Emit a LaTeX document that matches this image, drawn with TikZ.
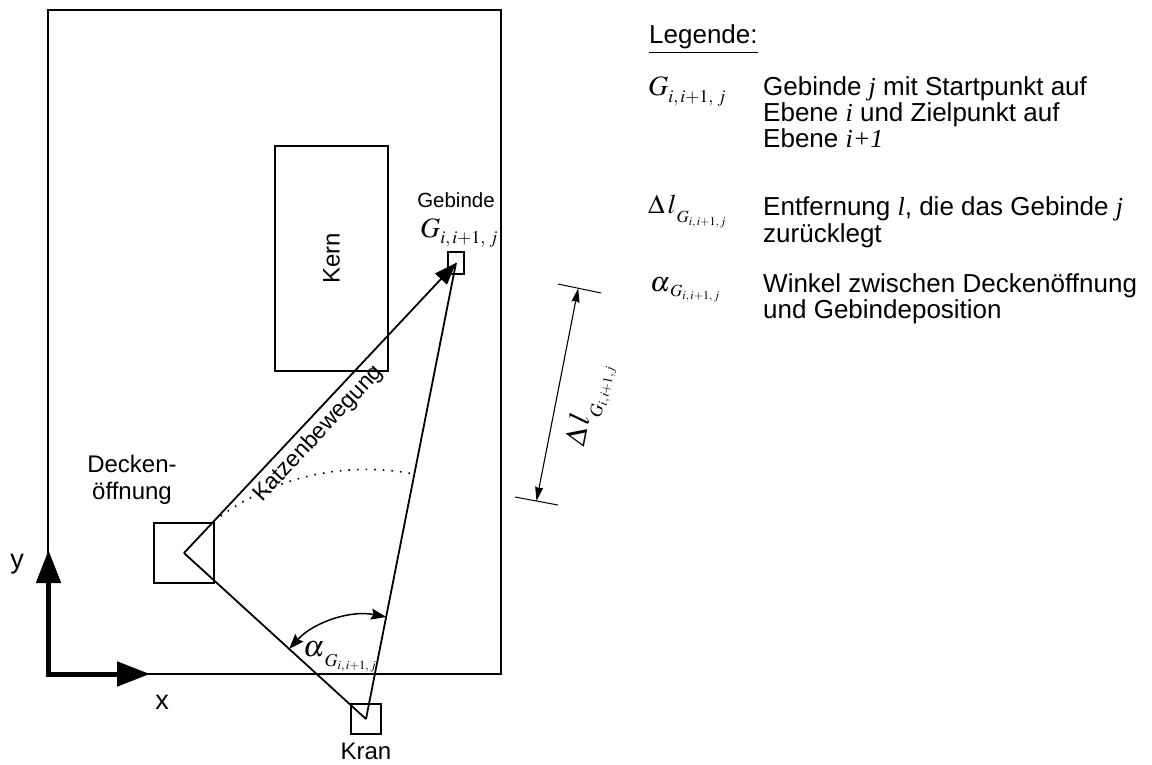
\documentclass[tikz,border=0pt]{standalone}
\usepackage{mathptmx}
\usepackage[no-math]{fontspec}
\setmainfont{Liberation Sans}
\newfontfamily\tms{Liberation Serif}
\usetikzlibrary{arrows.meta,calc}
\newcommand{\mi}[1]{{\tms\itshape #1}}
\newcommand{\msz}[2]{{\fontsize{#1}{#1}\selectfont$#2$}}
\newcommand{\symG}[3]{\msz{#1}{G}\raisebox{-#3}{\msz{#2}{i,i{+}1,\,j}}}
\newcommand{\symA}[5]{\msz{#1}{\alpha}\raisebox{-#4}{\msz{#2}{G}\raisebox{-#5}{\msz{#3}{i,i{+}1,j}}}}
\newcommand{\symL}[5]{\msz{#1}{\Delta\,l}\raisebox{-#4}{\msz{#2}{G}\raisebox{-#5}{\msz{#3}{i,i{+}1,j}}}}
\begin{document}
\begin{tikzpicture}[x=1pt,y=-1pt,line join=miter,
  ln/.style={line width=1.8pt},
  boxn/.style={draw,line width=1.8pt,inner sep=0pt,outer sep=0pt},
  lbl/.style={font=\fontsize{24}{28}\selectfont,inner sep=0pt},
  leg/.style={font=\fontsize{26}{30}\selectfont,anchor=base west,inner sep=0pt},
  mth/.style={anchor=base west,inner sep=0pt},
  bigtip/.tip={Triangle[length=22pt,width=16pt]},
  axtip/.tip={Triangle[length=33pt,width=24pt]},
  smtip/.tip={Stealth[length=15pt,width=11pt,inset=2pt]},
  dimtip/.tip={Stealth[length=14pt,width=8pt,inset=1pt]}]
\useasboundingbox (0,0) rectangle (1152,764);
% outer frame
\draw[ln] (48,10) rectangle (501,674);
% core
\node[boxn,rotate=90,minimum width=225pt,minimum height=113pt,font=\fontsize{24}{28}\selectfont] (kern) at (331.5,258.5) {Kern};
% boxes
\node[boxn,minimum size=60pt] (deck) at (184,553) {};
\node[boxn,minimum size=30pt] (kran) at (366,719) {};
\node[boxn,minimum width=16pt,minimum height=22pt] (geb) at (456,263) {};
% main connectors
\draw[ln,-bigtip] (deck.center) -- node[sloped,below=4pt,pos=0.45,font=\fontsize{23}{28}\selectfont,inner sep=1pt] (katz) {Katzenbewegung} (geb.center);
\draw[ln] (kran.center) -- (geb.center);
\draw[ln] (deck.center) -- (kran.center);
% dotted arc
\draw[line width=1.6pt,dash pattern=on 1.6pt off 7pt] ($(kran.center)+(-127.6:249.6)$) arc[start angle=-127.6,end angle=-78.84,radius=249.6];
% angle alpha
\draw[line width=1.5pt,smtip-smtip] ($(kran.center)+(-137.63:104)$) arc[start angle=-137.63,end angle=-78.84,radius=104];
\node[mth] (alph) at (303,656) {\symA{30}{18}{12.5}{10pt}{3pt}};
% dimension
\coordinate (dt1) at (558,284);
\coordinate (dt2) at (601,293);
\coordinate (db1) at (515,497);
\coordinate (db2) at (558,505);
\draw[line width=1pt] (dt1) -- (dt2);
\draw[line width=1pt] (db1) -- (db2);
\coordinate (dT) at ($(dt1)!0.47!(dt2)$);
\coordinate (dB) at ($(db1)!0.5!(db2)$);
\draw[line width=1.1pt,dimtip-dimtip] (dB) -- node[sloped,below=15pt,pos=0.48,inner sep=0pt] (dl) {\symL{30}{18}{13}{11pt}{3.5pt}} (dT);
% axes
\coordinate (o) at (48.5,674);
\coordinate (ytip) at (48.5,550);
\coordinate (xtip) at (150,674);
\draw[line width=5pt,axtip-axtip] (ytip) -- (o) -- (xtip);
\node[lbl,font=\fontsize{27}{30}\selectfont] (yl) at (17,564) {y};
\node[lbl,font=\fontsize{27}{30}\selectfont] (xl) at (162,702) {x};
% labels
\node[lbl,font=\fontsize{20.5}{24}\selectfont] (gebt) at (456,200) {Gebinde};
\node[mth] (gebg) at (420,237) {\symG{28}{18}{6pt}};
\node[lbl] (krant) at (366,751) {Kran};
\node[lbl,align=center,font=\fontsize{24}{27}\selectfont] (deckt) at (132,480) {Decken-\\öffnung};
% legend
\node[leg] (lh) at (649,43) {\underline{Legende:}};
\node[mth] (s1) at (648,95) {\symG{28}{18}{7pt}};
\node[leg] (t1a) at (763,95) {Gebinde \mi{j} mit Startpunkt auf};
\node[leg] (t1b) at (763,121) {Ebene \mi{i} und Zielpunkt auf};
\node[leg] (t1c) at (763,147) {Ebene \mi{i+1}};
\node[mth] (s2) at (648,213) {\symL{27}{17}{12}{9pt}{3.5pt}};
\node[leg] (t2a) at (763,215) {Entfernung \mi{l}, die das Gebinde \mi{j}};
\node[leg] (t2b) at (763,242) {zurücklegt};
\node[mth] (s3) at (650,291) {\symA{28}{17}{12}{5pt}{3pt}};
\node[leg] (t3a) at (763,292) {Winkel zwischen Deckenöffnung};
\node[leg] (t3b) at (763,318) {und Gebindeposition};
\end{tikzpicture}
\end{document}
